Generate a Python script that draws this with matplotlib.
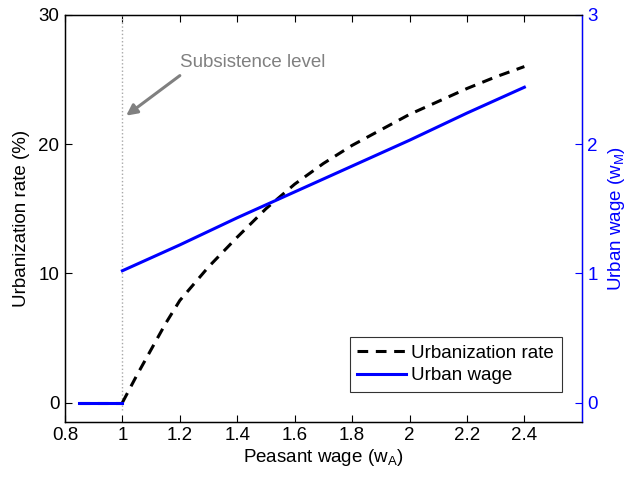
import matplotlib
matplotlib.use("Agg")
import matplotlib.pyplot as plt

plt.rcParams['font.family'] = ['Liberation Sans', 'DejaVu Sans']
plt.rcParams['font.size'] = 13.5
plt.rcParams['mathtext.fontset'] = 'custom'
plt.rcParams['mathtext.rm'] = 'Liberation Sans'

# Urbanisierungsrate (%) ueber Bauernlohn
wa_flat = [0.85, 1.0]
urb_flat = [0.0, 0.0]
wa = [1.0, 1.05, 1.1, 1.15, 1.2, 1.25, 1.3, 1.4, 1.5, 1.6, 1.7, 1.8, 1.9, 2.0, 2.1, 2.2, 2.3, 2.4]
urb_rate = [0.0, 2.1, 4.1, 6.1, 7.9, 9.2, 10.5, 12.8, 15.0, 16.9, 18.5, 19.9, 21.1, 22.3, 23.3, 24.3, 25.2, 26.0]

# Stadtlohn (rechte Achse)
wm_flat = [0.0, 0.0]
wa_m = [1.0, 1.2, 1.4, 1.6, 1.8, 2.0, 2.2, 2.4]
urban_wage = [1.02, 1.22, 1.43, 1.63, 1.83, 2.03, 2.24, 2.44]

subsistence = 1.0

fig = plt.figure(figsize=(6.31, 4.8), dpi=100)
ax = fig.add_axes([0.103, 0.121, 0.819, 0.848])
ax2 = ax.twinx()

ax.plot([subsistence, subsistence], [-0.6, 30], color='#a8a8a8', linestyle=':', lw=1.0)
l1, = ax.plot(wa, urb_rate, color='black', lw=2.2, dashes=(3.5, 2.5))
ax.plot(wa_flat, urb_flat, color='black', lw=2.2, dashes=(3.5, 2.5))
l2, = ax2.plot(wa_m, urban_wage, color='#0000ff', lw=2.2)
ax2.plot(wa_flat, wm_flat, color='#0000ff', lw=2.2)

# Pfeil und Text getrennt
ax.annotate('', xy=(1.013, 22.2), xytext=(1.2, 25.3),
            arrowprops=dict(arrowstyle='-|>', color='#808080', lw=2.2,
                            mutation_scale=16, shrinkA=0, shrinkB=0))
ax.text(1.2, 26.3, 'Subsistence level', color='#808080', va='center', ha='left')

ax.set_xlim(0.8, 2.6)
ax.set_ylim(-1.5, 30)
ax2.set_ylim(-0.15, 3)
ax.set_xticks([0.8, 1, 1.2, 1.4, 1.6, 1.8, 2, 2.2, 2.4])
ax.set_xticklabels(['0.8', '1', '1.2', '1.4', '1.6', '1.8', '2', '2.2', '2.4'])
ax.set_yticks([0, 10, 20, 30])
ax2.set_yticks([0, 1, 2, 3])

ax.tick_params(direction='in', length=5, top=True, right=False, width=0.8, pad=4)
ax2.tick_params(direction='in', length=5, colors='#0000ff', width=0.8, pad=4)
ax2.spines['right'].set_color('#0000ff')
for s in ['left', 'top', 'bottom']:
    ax.spines[s].set_linewidth(1.0)
ax2.spines['right'].set_linewidth(1.0)

ax.set_xlabel('Peasant wage (w$_\\mathregular{A}$)', labelpad=2)
ax.set_ylabel('Urbanization rate (%)', labelpad=6)
ax2.set_ylabel('Urban wage (w$_\\mathregular{M}$)', color='#0000ff', labelpad=6)

leg = ax.legend([l1, l2], ['Urbanization rate', 'Urban wage'], loc='lower right',
                bbox_to_anchor=(0.961, 0.074), borderaxespad=0, frameon=True,
                fancybox=False, edgecolor='black', handlelength=2.6,
                borderpad=0.4, labelspacing=0.3, handletextpad=0.3)
leg.get_frame().set_linewidth(0.8)
leg.set_zorder(5)

fig.savefig('out.png', dpi=100)
